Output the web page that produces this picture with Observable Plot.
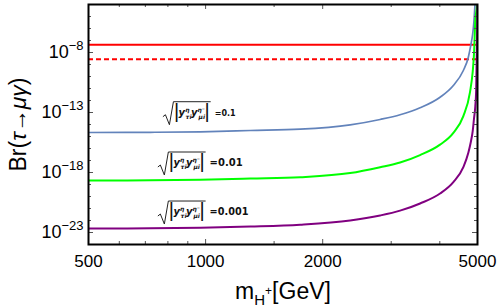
<!DOCTYPE html>
<html><head><meta charset="utf-8">
<script src="https://cdn.jsdelivr.net/npm/d3@7"></script>
<script src="https://cdn.jsdelivr.net/npm/@observablehq/plot@0.6"></script>
<style>body{margin:0;background:#fff;}</style>
</head><body>
<script>
// ---- data ----
const massBlue   = [500, 721, 970, 1303, 1751, 2353, 2810, 3162, 3559, 4006, 4334, 4598, 4736, 4803, 4860, 4898, 4926, 4945];
const brBlue     = [2.15e-15, 2.24e-15, 2.47e-15, 3.16e-15, 4.07e-15, 9.33e-15, 2.63e-14, 6.46e-14, 2.45e-13, 1.86e-12, 1.78e-11, 3.16e-10, 4.07e-9, 3.8e-8, 3.63e-7, 4.68e-6, 1e-4, 1e-3];
const massGreen  = [500, 721, 970, 1303, 1751, 2353, 2810, 3162, 3559, 4006, 4334, 4598, 4783, 4860, 4898, 4935, 4985, 5000];
const brGreen    = [2.15e-19, 2.24e-19, 2.51e-19, 3.16e-19, 4.07e-19, 8.9e-19, 2.75e-18, 6.76e-18, 2.82e-17, 2.09e-16, 2e-15, 5e-14, 5e-12, 2.5e-10, 8e-9, 4.68e-6, 1e-4, 1e-3];
const massPurple = [500, 721, 970, 1303, 1751, 2353, 2810, 3162, 3559, 4006, 4334, 4598, 4736, 4803, 4860, 4898, 4935, 4960, 4990, 5000];
const brPurple   = [2.15e-23, 2.24e-23, 2.51e-23, 3.16e-23, 4.5e-23, 1e-22, 2.63e-22, 6.6e-22, 2.63e-21, 1.78e-20, 1.58e-19, 2.82e-18, 4.47e-17, 3.16e-16, 2.82e-15, 3.16e-14, 3.16e-13, 6.76e-12, 1e-6, 1e-4];
const couplings  = ["0.1", "0.01", "0.001"];
const labelMass  = [779, 756, 756];
const labelBr    = [4.9e-14, 3.16e-18, 2.6e-22];
const limitNow    = [4.4e-8];
const limitFuture = [2.7e-9];
const xMajor = [500, 1000, 2000, 5000];
const xMinor = [600, 700, 800, 900, 1500, 3000, 4000];
const yMajor = [1e-23, 1e-18, 1e-13, 1e-8];
const yMinor = [1e-5, 1e-6, 1e-7, 1e-9, 1e-10, 1e-11, 1e-12, 1e-14, 1e-15, 1e-16, 1e-17, 1e-19, 1e-20, 1e-21, 1e-22];

// ---- styles ----
const W = 501, H = 308, ML = 88, MR = 24, MT = 4, MB = 64;
const FW = W - ML - MR, FH = H - MT - MB;
const labelFont = [8, 10, 9.7];
const tickCol = "#555";

const rows = (mass, br) => mass.map((m, i) => ({mass: m, br: br[i]}));

const chart = Plot.plot({
  width: W, height: H,
  marginLeft: ML, marginRight: MR, marginTop: MT, marginBottom: MB,
  style: {fontFamily: "'Liberation Sans', Arial, sans-serif", background: "white", color: "black", overflow: "visible"},
  x: {type: "log", domain: [500, 5000]},
  y: {type: "log", domain: [1e-24, 1e-4]},
  marks: [
    Plot.ruleY(limitNow, {y: d => d, stroke: "#ff0000", strokeWidth: 2}),
    Plot.ruleY(limitFuture, {y: d => d, stroke: "#ff0000", strokeWidth: 2, strokeDasharray: "5,3"}),
    Plot.line(rows(massBlue, brBlue), {x: "mass", y: "br", stroke: "#6283bb", strokeWidth: 1.7, curve: "monotone-x", clip: true}),
    Plot.line(rows(massGreen, brGreen), {x: "mass", y: "br", stroke: "#00ff00", strokeWidth: 2, curve: "monotone-x", clip: true}),
    Plot.line(rows(massPurple, brPurple), {x: "mass", y: "br", stroke: "#800080", strokeWidth: 2, curve: "monotone-x", clip: true}),
    // inward ticks
    Plot.tickY(yMajor, {y: d => d, stroke: tickCol, insetRight: FW - 5}),
    Plot.tickY(yMinor, {y: d => d, stroke: tickCol, insetRight: FW - 3}),
    Plot.tickY(yMajor, {y: d => d, stroke: tickCol, insetLeft: FW - 5}),
    Plot.tickY(yMinor, {y: d => d, stroke: tickCol, insetLeft: FW - 3}),
    Plot.tickX(xMajor, {x: d => d, stroke: tickCol, insetTop: FH - 5}),
    Plot.tickX(xMinor, {x: d => d, stroke: tickCol, insetTop: FH - 3}),
    Plot.tickX(xMajor, {x: d => d, stroke: tickCol, insetBottom: FH - 5}),
    Plot.tickX(xMinor, {x: d => d, stroke: tickCol, insetBottom: FH - 3}),
    Plot.axisY(yMajor, {anchor: "left", tickSize: 0, tickPadding: 5, fontSize: 18, label: null,
      tickFormat: d => "10^" + Math.round(Math.log10(d))}),
    Plot.axisX([], {anchor: "bottom", tickSize: 0, label: null}),
    Plot.text(xMajor, {x: d => d, text: d => String(d), frameAnchor: "bottom", dy: 10, lineAnchor: "top", fontSize: 17}),
    Plot.text(["Br"], {frameAnchor: "left", text: d => d, rotate: -90, dx: -70, textAnchor: "middle", fontSize: 23, className: "ytitle"}),
    Plot.text(["m"], {frameAnchor: "bottom", text: d => d, dy: 54, lineAnchor: "bottom", textAnchor: "middle", fontSize: 23, className: "xtitle"}),
    Plot.frame({stroke: "black", strokeWidth: 2})
  ]
});
document.body.appendChild(chart);

const svg = d3.select(chart);
// y tick labels with superscripts
svg.selectAll('g[aria-label="y-axis tick label"] text').each(function() {
  const [b, e] = this.textContent.split("^");
  const t = d3.select(this); t.text(null);
  t.append("tspan").text(b);
  t.append("tspan").attr("font-size", 13).attr("dy", -8).text(e.replace("-", "\u2212"));
});
// y title
svg.selectAll(".ytitle text").each(function() {
  const t = d3.select(this); t.text(null);
  t.append("tspan").text("Br(");
  t.append("tspan").attr("font-style", "italic").text("\u03c4");
  t.append("tspan").text("\u2192");
  t.append("tspan").attr("font-style", "italic").text("\u03bc\u03b3");
  t.append("tspan").text(")");
});
// x title
svg.selectAll(".xtitle text").each(function() {
  const t = d3.select(this); t.text(null);
  t.append("tspan").text("m");
  t.append("tspan").attr("font-size", 15).attr("dy", 6).text("H");
  t.append("tspan").attr("font-size", 12).attr("dy", -10).text("+");
  t.append("tspan").attr("dy", 4).text("[GeV]");
});

// coupling annotations
const sx = chart.scale("x"), sy = chart.scale("y");
const ann = svg.append("g").attr("font-family", "'DejaVu Sans', Verdana, sans-serif")
  .attr("fill", "#111").attr("text-anchor", "start");
labelMass.forEach((m, i) => {
  const x0 = sx.apply(m), y0 = sy.apply(labelBr[i]);
  const g = ann.append("g").attr("transform", `translate(${x0},${y0})`);
  const rad = g.append("text").attr("x", 11).attr("y", 0);
  const bar = (dy, dx) => rad.append("tspan").attr("font-size", 20).attr("font-family", "'Liberation Sans', Arial").attr("font-weight", "normal").attr("dy", dy).attr("dx", dx).text("|");
  const big = (dy, dx, s) => rad.append("tspan").attr("font-size", 10).attr("font-weight", "bold").attr("font-style", "italic").attr("dy", dy).attr("dx", dx).text(s);
  const small = (dy, dx, s) => rad.append("tspan").attr("font-size", 6).attr("font-weight", "bold").attr("font-style", "italic").attr("dy", dy).attr("dx", dx).text(s);
  bar(2, 0);
  big(-2, -0.5, "y");
  small(-4, 0, "\u03b7");
  small(7, -3.8, "\u03c4i");
  big(-3, -0.5, "y");
  small(-4, 0, "\u03b7\u207b");
  small(7, -6.5, "\u03bci");
  bar(-1, -0.5);
  const bb = rad.node().getBBox();
  const right = bb.x + bb.width;
  g.append("path").attr("fill", "none").attr("stroke", "#222").attr("stroke-width", 1)
    .attr("d", `M0,1 L2.5,-1 L6.5,9 L10.5,-14 H${right + 1}`);
  g.append("text").attr("x", right + 5).attr("y", 0).attr("font-weight", "bold")
    .attr("font-size", labelFont[i]).text("=" + couplings[i]);
});
</script>
</body></html>
